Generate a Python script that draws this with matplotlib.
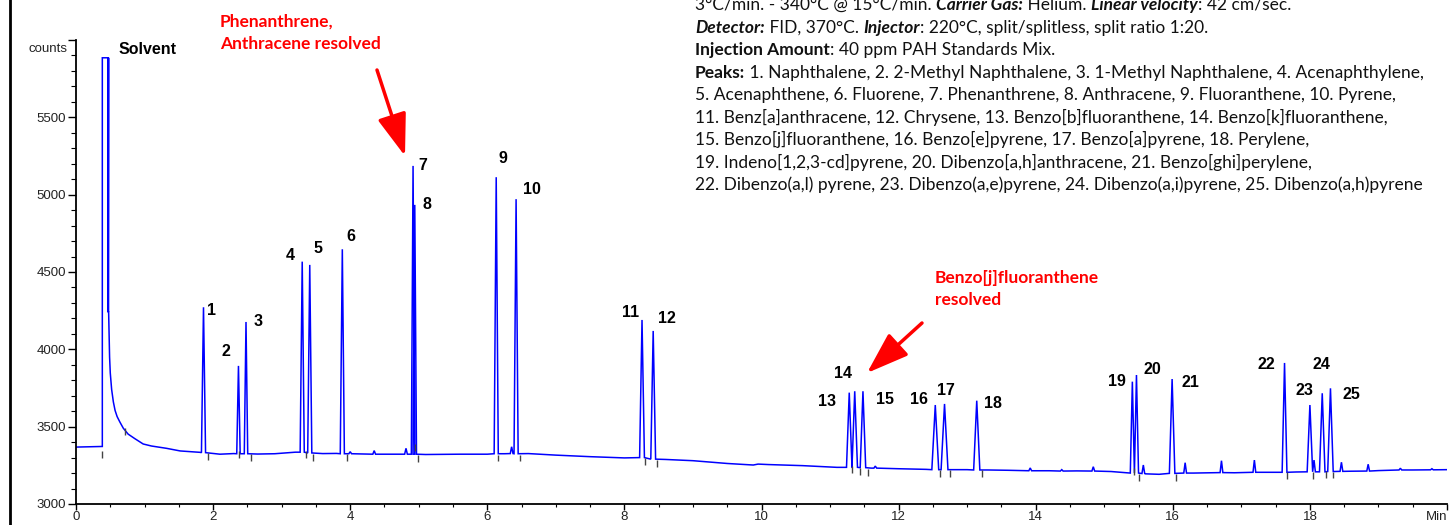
import matplotlib
matplotlib.use("Agg")
import matplotlib.pyplot as plt
from matplotlib.lines import Line2D
from matplotlib.font_manager import FontProperties
from matplotlib.ticker import MultipleLocator

# ---------------------------------------------------------------
# data (time in min, signal in counts)
# ---------------------------------------------------------------

# baseline + solvent front, in drawing order
trace_t = [0.0, 0.2, 0.37, 0.384, 0.384, 0.475, 0.475, 0.468, 0.470, 0.463, 0.476,
           0.49, 0.50, 0.52, 0.545, 0.57, 0.60, 0.64, 0.69, 0.76, 0.86, 0.98, 1.10, 1.32, 1.52, 1.81,
           2.1, 2.3, 2.65, 2.9, 3.2, 3.6, 3.8, 4.2, 4.6, 5.1, 5.6, 6.0, 6.25, 6.6, 7.0, 7.5,
           8.0, 8.6, 9.0, 9.5, 9.88, 9.95, 10.1, 10.6, 11.1, 11.6, 12.0, 12.4, 12.85, 13.0,
           13.3, 13.6, 14.2, 14.6, 15.1, 15.6, 15.8, 16.3, 16.9, 17.4, 17.8, 18.6, 19.0, 19.5, 20.0]
trace_c = [3368, 3370, 3372, 3372, 5885, 5885, 4240, 5885, 4240, 5885, 4240,
           3950, 3847, 3740, 3660, 3605, 3565, 3530, 3490, 3452, 3422, 3388, 3375, 3360, 3343, 3334,
           3322, 3326, 3323, 3325, 3335, 3326, 3327, 3323, 3322, 3320, 3322, 3322, 3325, 3326, 3316, 3306,
           3298, 3288, 3280, 3262, 3252, 3258, 3255, 3248, 3237, 3232, 3228, 3224, 3222, 3222,
           3220, 3218, 3215, 3214, 3210, 3195, 3192, 3200, 3202, 3205, 3207, 3212, 3216, 3220, 3222]

# numbered peaks
peak_no = list(range(1, 26))
peak_rt = [1.86, 2.37, 2.48, 3.30, 3.41, 3.885, 4.917, 4.942, 6.13, 6.42, 8.257, 8.42,
           11.28, 11.36, 11.48, 12.535, 12.67, 13.14, 15.41, 15.47, 15.99, 17.63, 18.00, 18.18, 18.30]
peak_top = [4272, 3893, 4177, 4567, 4546, 4647, 5186, 4934, 5113, 4971, 4190, 4119,
            3720, 3729, 3729, 3640, 3647, 3668, 3791, 3834, 3808, 3912, 3640, 3716, 3748]
peak_base = [3332, 3325, 3325, 3335, 3330, 3325, 3322, 3322, 3325, 3325, 3300, 3290,
             3237, 3237, 3235, 3222, 3222, 3220, 3200, 3200, 3198, 3205, 3208, 3208, 3210]
peak_hw = [0.03, 0.025, 0.025, 0.03, 0.03, 0.03, 0.025, 0.025, 0.03, 0.03, 0.035, 0.035,
           0.04, 0.04, 0.04, 0.05, 0.05, 0.045, 0.03, 0.03, 0.04, 0.035, 0.04, 0.04, 0.04]

# small unlabelled peaks
minor_rt = [4.0, 4.35, 4.814, 6.355, 11.66, 13.92, 14.38, 14.84, 15.57, 16.18, 16.71, 17.19,
            18.06, 18.46, 18.85, 19.32, 19.78]
minor_top = [3338, 3345, 3360, 3370, 3245, 3233, 3222, 3241, 3252, 3267, 3280, 3284,
             3284, 3270, 3257, 3231, 3228]
minor_base = [3325, 3322, 3322, 3326, 3232, 3215, 3213, 3213, 3197, 3200, 3203, 3205,
              3208, 3211, 3213, 3220, 3221]

# integration marks (time, top of mark)
mark_t = [0.375, 0.71, 1.93, 2.38, 2.56, 3.35, 3.46, 3.95, 4.94, 4.99, 6.15, 6.47, 8.30, 8.47,
          11.325, 11.43, 11.55, 12.60, 12.75, 13.21, 15.44, 15.51, 16.05, 17.67, 18.04, 18.23, 18.34]
mark_c = [3345, 3490, 3330, 3340, 3322, 3340, 3325, 3322, 3390, 3318, 3320, 3320, 3300, 3285,
          3245, 3235, 3228, 3222, 3220, 3218, 3230, 3195, 3196, 3205, 3208, 3212, 3210]

# peak number label positions
label_t = [1.98, 2.184, 2.651, 3.122, 3.535, 4.007, 5.052, 5.116, 6.233, 6.648, 8.096, 8.617,
           10.951, 11.193, 11.802, 12.302, 12.687, 13.382, 15.182, 15.701, 16.251, 17.37, 17.918, 18.162, 18.61]
label_c = [4250, 3985, 4177, 4604, 4649, 4729, 5186, 4938, 5231, 5031, 4240, 4201,
           3662, 3845, 3673, 3673, 3737, 3647, 3791, 3871, 3787, 3899, 3731, 3899, 3705]

info_lines = [
    [("3°C/min. - 340°C @ 15°C/min. ", "normal", "normal"), ("Carrier Gas:", "bold", "italic"),
     (" Helium. ", "normal", "normal"), ("Linear velocity", "bold", "italic"), (": 42 cm/sec.", "normal", "normal")],
    [("Detector:", "bold", "italic"), (" FID, 370°C. ", "normal", "normal"), ("Injector", "bold", "italic"),
     (": 220°C, split/splitless, split ratio 1:20.", "normal", "normal")],
    [("Injection Amount", "bold", "normal"), (": 40 ppm PAH Standards Mix.", "normal", "normal")],
    [("Peaks:", "bold", "normal"),
     (" 1. Naphthalene, 2. 2-Methyl Naphthalene, 3. 1-Methyl Naphthalene, 4. Acenaphthylene,", "normal", "normal")],
    [("5. Acenaphthene, 6. Fluorene, 7. Phenanthrene, 8. Anthracene, 9. Fluoranthene, 10. Pyrene,", "normal", "normal")],
    [("11. Benz[a]anthracene, 12. Chrysene, 13. Benzo[b]fluoranthene, 14. Benzo[k]fluoranthene,", "normal", "normal")],
    [("15. Benzo[j]fluoranthene, 16. Benzo[e]pyrene, 17. Benzo[a]pyrene, 18. Perylene,", "normal", "normal")],
    [("19. Indeno[1,2,3-cd]pyrene, 20. Dibenzo[a,h]anthracene, 21. Benzo[ghi]perylene,", "normal", "normal")],
    [("22. Dibenzo(a,l) pyrene, 23. Dibenzo(a,e)pyrene, 24. Dibenzo(a,i)pyrene, 25. Dibenzo(a,h)pyrene", "normal", "normal")],
]

W, H = 1450, 525

# build the trace: baseline points + peak triangles, merged by time
groups = []
for t, c in zip(trace_t, trace_c):
    groups.append((t, [(t, c)]))
for rt, top, b, hw in zip(peak_rt, peak_top, peak_base, peak_hw):
    groups.append((rt - hw, [(rt - hw, b), (rt, top), (rt + hw, b)]))
for rt, top, b in zip(minor_rt, minor_top, minor_base):
    groups.append((rt - 0.02, [(rt - 0.02, b), (rt, top), (rt + 0.02, b)]))
groups.sort(key=lambda g: g[0])
xs = [p[0] for g in groups for p in g[1]]
ys = [p[1] for g in groups for p in g[1]]

fig = plt.figure(figsize=(W / 100, H / 100), dpi=100)
ax = fig.add_axes([76 / W, 21 / H, 1371 / W, 464 / H])

ax.plot(xs, ys, color="#0000ff", lw=1.1, solid_joinstyle="miter")
ax.vlines(mark_t, [c - 45 for c in mark_c], mark_c, color="#444444", lw=1)

for n, t, c in zip(peak_no, label_t, label_c):
    ax.text(t, c, str(n), ha="center", va="center", fontsize=11.5, fontweight="bold",
            family="Liberation Sans")
ax.text(0.613, 5936, "Solvent", ha="left", va="center", fontsize=11.5, fontweight="bold",
        family="Liberation Sans")

ax.set_xlim(0, 20)
ax.set_ylim(3000, 6000)
for s in ["top", "right"]:
    ax.spines[s].set_visible(False)
for s in ["left", "bottom"]:
    ax.spines[s].set_linewidth(1.3)
ax.set_xticks(range(0, 21, 2))
ax.set_xticklabels([str(v) for v in range(0, 20, 2)] + ["Min"])
ax.set_yticks([3000, 3500, 4000, 4500, 5000, 5500, 6000])
ax.set_yticklabels(["3000", "3500", "4000", "4500", "5000", "5500", ""])
ax.xaxis.set_minor_locator(MultipleLocator(0.5))
ax.yaxis.set_minor_locator(MultipleLocator(100))
ax.tick_params(axis="x", which="major", length=4.3, width=1, pad=1)
ax.tick_params(axis="x", which="minor", length=2.2, width=0.8)
ax.tick_params(axis="y", which="major", length=5.8, width=1, pad=1.5)
ax.tick_params(axis="y", which="minor", length=3.6, width=0.8)
for lab in ax.get_xticklabels() + ax.get_yticklabels():
    lab.set_fontfamily("Liberation Sans")
    lab.set_fontsize(9.5)
    lab.set_color("#222222")
ax.get_xticklabels()[-1].set_horizontalalignment("right")
ax.annotate("counts", xy=(0, 6000), xycoords=("axes fraction", "data"), xytext=(-6, -6.5),
            textcoords="offset points", ha="right", va="center", fontsize=9.5,
            family="Liberation Sans", color="#222222")

# left border of the figure
fig.add_artist(Line2D([10 / W, 10 / W], [0, 1], transform=fig.transFigure, color="black", lw=2))

# red annotations
red_fp = dict(family="Lato", fontweight="bold", fontsize=12.5, color="red")
fig.text(220 / W, 1 - 27 / H, "Phenanthrene,", va="baseline", ha="left", **red_fp)
fig.text(220 / W, 1 - 49 / H, "Anthracene resolved", va="baseline", ha="left", **red_fp)
fig.text(935 / W, 1 - 283 / H, "Benzo[j]fluoranthene", va="baseline", ha="left", **red_fp)
fig.text(935 / W, 1 - 305 / H, "resolved", va="baseline", ha="left", **red_fp)
arrow = dict(arrowstyle="-|>,head_length=1.3,head_width=0.45", color="red", lw=2.5,
             mutation_scale=20, shrinkA=0, shrinkB=0)
ax.annotate("", xy=(405 / W, 1 - 156 / H), xycoords="figure fraction",
            xytext=(377 / W, 1 - 70 / H), textcoords="figure fraction", arrowprops=arrow)
ax.annotate("", xy=(867 / W, 1 - 373 / H), xycoords="figure fraction",
            xytext=(922 / W, 1 - 323 / H), textcoords="figure fraction", arrowprops=arrow)

# method text block, mixed bold / italic runs placed one after another
fig.canvas.draw()
r = fig.canvas.get_renderer()


def run_width(s, fp):
    pad, _, _ = r.get_text_width_height_descent("a" + s + "a", fp, ismath=False)
    aa, _, _ = r.get_text_width_height_descent("aa", fp, ismath=False)
    return pad - aa


info_font = "Lato"
ref = FontProperties(family=info_font, size=10)
fs = 10 * 728 / run_width(info_lines[-1][0][0], ref)
for i, segs in enumerate(info_lines):
    x = 695
    y = H - (10 + 22.56 * i)
    for s, w, st in segs:
        fp = FontProperties(family=info_font, size=fs, weight=w, style=st)
        fig.text(x / W, y / H, s, fontproperties=fp, va="baseline", ha="left", color="#111111")
        x += run_width(s, fp)

fig.savefig("out.png", dpi=100)
